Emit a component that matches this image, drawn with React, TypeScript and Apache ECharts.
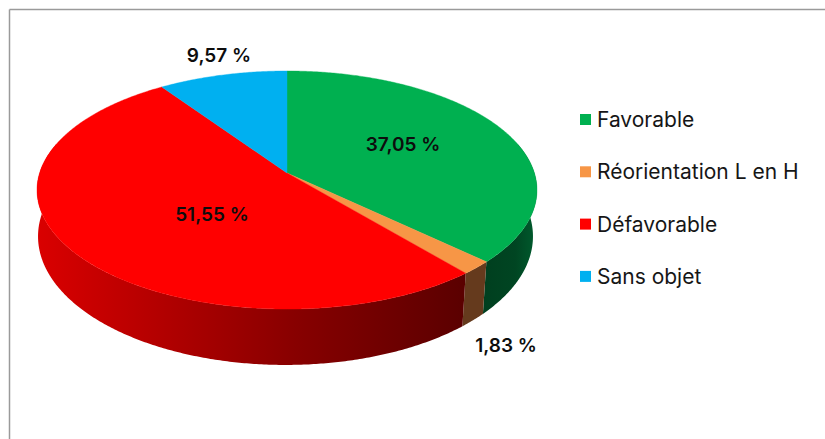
import React, { useEffect, useRef } from "react";
import * as echarts from "echarts";

const categories = ["Favorable", "Réorientation L en H", "Défavorable", "Sans objet"];
const shares = [37.05, 1.83, 51.55, 9.57];
const topColors = ["#00b050", "#f79646", "#ff0000", "#00b0f0"];

// Layout of the tilted disc (perspective projection of a circle).
const CX = 287, APEX_Y = 173, RX = 247.4, RY = 116.6, PERSPECTIVE = 0.143;
const BOTTOM_SX = 0.99, BOTTOM_SY = 1.08, BOTTOM_DY = 45, BOTTOM_DX = -1.5;
const FRONT_FROM = 75, FRONT_TO = 285;
const labelAnchors: [number, number][] = [[403, 144], [506, 345], [212, 214], [219, 55]];
const FONT = "Inter";

const total = shares.reduce((a, b) => a + b, 0);
const cumulative = (i: number) => shares.slice(0, i).reduce((a, b) => a + b, 0);

function project(deg: number, bottom: boolean): number[] {
  const t = (deg * Math.PI) / 180;
  const u = Math.sin(t), v = -Math.cos(t), w = 1 - PERSPECTIVE * v;
  const dx = (RX * u) / w, dy = (RY * v) / w;
  return bottom
    ? [CX + BOTTOM_DX + BOTTOM_SX * dx, APEX_Y + BOTTOM_DY + BOTTOM_SY * dy]
    : [CX + dx, APEX_Y + dy];
}

function arc(from: number, to: number, bottom: boolean): number[][] {
  const n = Math.max(2, Math.ceil((to - from) * 2));
  const pts: number[][] = [];
  for (let i = 0; i <= n; i++) pts.push(project(from + ((to - from) * i) / n, bottom));
  return pts;
}

function grad(stops: [number, string][]) {
  return new echarts.graphic.LinearGradient(0, 0, 1, 0, stops.map(([offset, color]) => ({ offset, color })));
}

const wallFills = [
  () => grad([[0, "#003f1f"], [0.6, "#004522"], [1, "#005c2e"]]),
  () => "#653a1d",
  () => grad([[0, "#da0000"], [0.6, "#880000"], [1, "#5a0000"]]),
  () => "#005f80",
];

const fmt = (v: number) => v.toFixed(2).replace(".", ",") + " %";

function makeSeries(i: number) {
  return {
    type: "custom",
    name: categories[i],
    coordinateSystem: "none",
    itemStyle: { color: topColors[i] },
    data: [[shares[i]]],
    silent: true,
    renderItem: (_p: any, api: any) => {
      const value = api.value(0);
      const start = (cumulative(i) / total) * 360;
      const end = start + (value / total) * 360;
      const children: any[] = [];
      const wFrom = Math.max(start, FRONT_FROM), wTo = Math.min(end, FRONT_TO);
      if (wTo > wFrom) {
        children.push({
          type: "polygon",
          shape: { points: [...arc(wFrom, wTo, false), ...arc(wFrom, wTo, true).reverse()] },
          style: { fill: wallFills[i]() },
        });
      }
      children.push({
        type: "polygon",
        z2: 5,
        shape: { points: [[CX, APEX_Y], ...arc(start, end, false)] },
        style: { fill: topColors[i], stroke: topColors[i], lineWidth: 0.4 },
      });
      children.push({
        type: "text",
        z2: 10,
        style: {
          x: labelAnchors[i][0], y: labelAnchors[i][1],
          text: fmt(value),
          fill: "#0d0d0d",
          font: `600 19px ${FONT}`,
          align: "center", verticalAlign: "middle",
        },
      });
      return { type: "group", children };
    },
  };
}

export default function App() {
  const ref = useRef<HTMLDivElement>(null);
  useEffect(() => {
    const chart = echarts.init(ref.current!, undefined, { renderer: "svg" });
    chart.setOption({
      animation: false,
      backgroundColor: "#ffffff",
      legend: {
        orient: "vertical",
        left: 574,
        top: 109,
        padding: [0, 0, 0, 6],
        icon: "rect",
        itemWidth: 11,
        itemHeight: 11,
        itemGap: 31.3,
        data: categories,
        selectedMode: false,
        textStyle: { fontFamily: FONT, fontSize: 21, color: "#161616", padding: [0, 0, 0, 1] },
      },
      graphic: [
        { type: "line", shape: { x1: 9.5, y1: 9.5, x2: 825, y2: 9.5 }, style: { stroke: "#9a9a9a", lineWidth: 1.5 } },
        { type: "line", shape: { x1: 9.5, y1: 9.5, x2: 9.5, y2: 439 }, style: { stroke: "#9a9a9a", lineWidth: 1.5 } },
      ],
      series: categories.map((_, i) => makeSeries(i)),
    });
    return () => chart.dispose();
  }, []);
  return <div ref={ref} style={{ position: "fixed", left: 0, top: 0, width: 825, height: 439 }} />;
}
